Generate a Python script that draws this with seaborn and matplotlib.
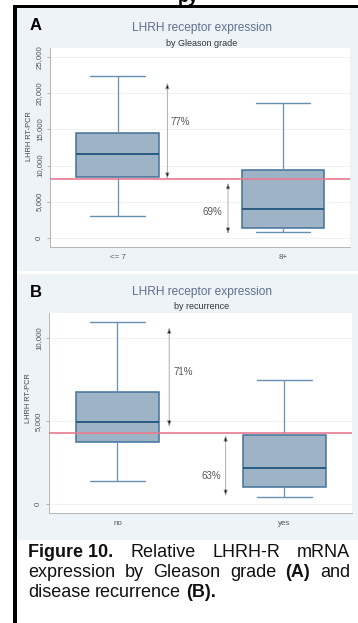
import numpy as np
import pandas as pd
import matplotlib
matplotlib.use("Agg")
import matplotlib.pyplot as plt
import seaborn as sns
from matplotlib.patches import Rectangle

# ---------------- data ----------------
grade_groups = ["<= 7", "8+"]
grade_min = [3080, 870]
grade_q1 = [8470, 1420]
grade_median = [11560, 3960]
grade_q3 = [14500, 9390]
grade_max = [22400, 18600]
grade_cutoff = 8110
grade_pct = ["77%", "69%"]
grade_arrow_lo = [8150, 550]
grade_arrow_hi = [21450, 7640]
grade_pct_y = [16060, 3630]
grade_ticks = [0, 5000, 10000, 15000, 20000, 25000]
grade_ticklabels = ["0", "5,000", "10,000", "15,000", "20,000", "25,000"]

recur_groups = ["no", "yes"]
recur_min = [1390, 440]
recur_q1 = [3760, 1040]
recur_median = [4970, 2150]
recur_q3 = [6780, 4160]
recur_max = [11000, 7480]
recur_cutoff = 4300
recur_pct = ["71%", "63%"]
recur_arrow_lo = [4660, 480]
recur_arrow_hi = [10660, 4160]
recur_pct_y = [7980, 1690]
recur_ticks = [0, 5000, 10000]
recur_ticklabels = ["0", "5,000", "10,000"]

title_text = "LHRH receptor expression"
grade_subtitle = "by Gleason grade"
recur_subtitle = "by recurrence"
ylabel_text = "LHRH RT-PCR"

# ---------------- style ----------------
sns.set_style("white")
plt.rcParams["font.family"] = ["Liberation Sans", "DejaVu Sans"]

W, H = 358, 623
fig = plt.figure(figsize=(W / 100, H / 100), dpi=100)
fig.patch.set_facecolor("white")

def fx(x):
    return x / W

def fy(y):
    return 1 - y / H

def rect(x0, y0, x1, y1, color):
    fig.patches.append(Rectangle((fx(x0), fy(y1)), fx(x1) - fx(x0), fy(y0) - fy(y1),
                                 transform=fig.transFigure, facecolor=color,
                                 edgecolor="none", zorder=-10))

panel_bg = "#eef3f7"
rect(17, 7.5, 358, 271, panel_bg)
rect(17, 274, 358, 540, panel_bg)
rect(13, 5, 358, 7.5, "black")
rect(13, 5, 17, 623, "black")

# cut-off page heading at very top
fig.text(fx(188), fy(1.5), "py", fontsize=13, weight="bold", ha="center",
         va="baseline", color="black")

box_fill = "#9fb3c6"
edge_col = "#43719a"
median_col = "#285a82"
whisk_col = "#6890b4"
cut_col = "#e67a90"
lab_col = "#555555"


def make_df(groups, mn, q1, md, q3, mx):
    rows = []
    for i, g in enumerate(groups):
        for v in (mn[i], q1[i], md[i], q3[i], mx[i]):
            rows.append({"group": g, "value": v})
    return pd.DataFrame(rows)


def draw_panel(ax, df, groups, ylim, ticks, ticklabels, cutoff, arrow_x, lo, hi,
               pct, pct_x, pct_y, pct_ha, label_y):
    ax.set_facecolor("white")
    for t in ticks:
        ax.axhline(t, color="#eef0f2", lw=0.6, zorder=0)
    sns.boxplot(data=df, x="group", y="value", order=groups, ax=ax,
                width=0.5, whis=(0, 100), color=box_fill, saturation=1,
                linecolor=edge_col, linewidth=1.1, fliersize=0,
                medianprops=dict(color=median_col, linewidth=1.4),
                whiskerprops=dict(color=whisk_col, linewidth=0.9),
                capprops=dict(color=whisk_col, linewidth=1.0),
                capwidths=0.33)
    ax.axhline(cutoff, color=cut_col, lw=1.2, zorder=3)
    for i in range(2):
        ax.annotate("", xy=(arrow_x[i], hi[i]), xytext=(arrow_x[i], lo[i]),
                    arrowprops=dict(arrowstyle="<|-|>,head_length=0.35,head_width=0.12",
                                    fc="black", ec="#a0a0a0", lw=0.6,
                                    shrinkA=0, shrinkB=0))
        ax.text(pct_x[i], pct_y[i], pct[i], ha=pct_ha[i], va="center",
                fontsize=7, color="#555555")
    ax.set_xlim(-0.41, 1.405)
    ax.set_ylim(*ylim)
    ax.set_yticks(ticks)
    ax.set_yticklabels(ticklabels)
    ax.tick_params(axis="y", labelrotation=90, labelsize=5.7, labelcolor=lab_col,
                   length=2.5, width=0.5, color="#999999", pad=2.5, left=True)
    ax.tick_params(axis="x", labelsize=5.7, labelcolor=lab_col, length=0, pad=5)
    for lab in ax.get_yticklabels():
        lab.set_va("center")
    ax.set_xlabel("")
    ax.set_ylabel(ylabel_text, fontsize=5.3, color="#444444")
    ax.yaxis.set_label_coords(-0.067, label_y)
    ax.yaxis.label.set_va("center")
    for s in ("top", "right"):
        ax.spines[s].set_visible(False)
    for s in ("left", "bottom"):
        ax.spines[s].set_color("#b5b5b5")
        ax.spines[s].set_linewidth(0.7)


# Panel A
axA = fig.add_axes([fx(50), fy(247), fx(350) - fx(50), fy(48) - fy(247)])
dfA = make_df(grade_groups, grade_min, grade_q1, grade_median, grade_q3, grade_max)
draw_panel(axA, dfA, grade_groups, (-1243, 26243), grade_ticks, grade_ticklabels,
           grade_cutoff, [0.30, 0.667], grade_arrow_lo, grade_arrow_hi,
           grade_pct, [0.32, 0.63], grade_pct_y, ["left", "right"], 0.558)

# Panel B
axB = fig.add_axes([fx(49), fy(513), fx(352) - fx(49), fy(312.7) - fy(513)])
dfB = make_df(recur_groups, recur_min, recur_q1, recur_median, recur_q3, recur_max)
draw_panel(axB, dfB, recur_groups, (-543, 11545), recur_ticks, recur_ticklabels,
           recur_cutoff, [0.31, 0.648], recur_arrow_lo, recur_arrow_hi,
           recur_pct, [0.334, 0.624], recur_pct_y, ["left", "right"], 0.574)

# titles and panel letters
title_col = "#5e6e8e"
for (ty, sy, sub, letter, ly) in ((28, 43, grade_subtitle, "A", 26),
                                   (291.7, 306.7, recur_subtitle, "B", 293)):
    fig.text(fx(202), fy(ty), title_text, fontsize=8.6, color=title_col,
             ha="center", va="center")
    fig.text(fx(202), fy(sy), sub, fontsize=6.5, color="#333333",
             ha="center", va="center")
    fig.text(fx(36), fy(ly), letter, fontsize=12, weight="bold", color="black",
             ha="center", va="center")

# caption (justified)
cap_fs = 13
renderer = fig.canvas.get_renderer()


def text_width(s, bold):
    t = fig.text(0, 0, s, fontsize=cap_fs, weight="bold" if bold else "normal")
    w = t.get_window_extent(renderer).width
    t.remove()
    return w


space_w = text_width("a a", False) - text_width("aa", False)


def draw_line(words, y, x0, x1, justify):
    widths = [text_width(w, b) for w, b in words]
    if justify and len(words) > 1:
        gap = (x1 - x0 - sum(widths)) / (len(words) - 1)
    else:
        gap = space_w
    x = x0
    for (w, b), wd in zip(words, widths):
        fig.text(fx(x), fy(y), w, fontsize=cap_fs, weight="bold" if b else "normal",
                 ha="left", va="baseline", color="#111111")
        x += wd + gap


caption_lines = [
    [("Figure 10.", True), ("Relative", False), ("LHRH-R", False), ("mRNA", False)],
    [("expression", False), ("by", False), ("Gleason", False), ("grade", False),
     ("(A)", True), ("and", False)],
    [("disease", False), ("recurrence", False), ("(B).", True)],
]
draw_line(caption_lines[0], 556.7, 28, 350, True)
draw_line(caption_lines[1], 576.7, 28, 350, True)
draw_line(caption_lines[2], 596.7, 28, 350, False)

fig.savefig("out.png", dpi=100)
